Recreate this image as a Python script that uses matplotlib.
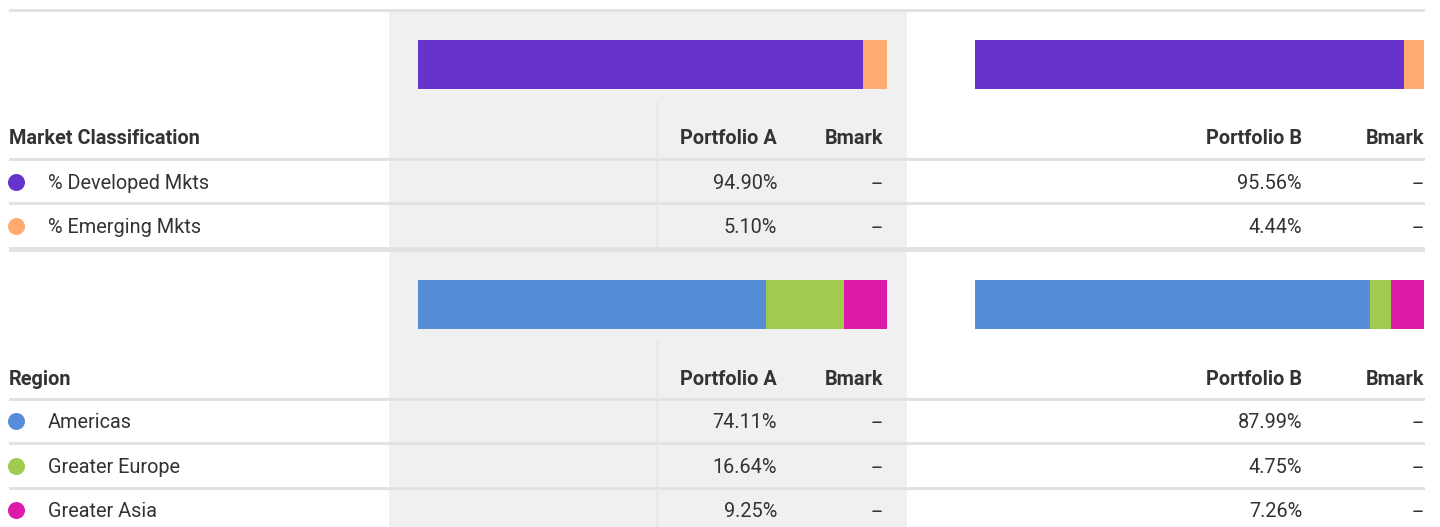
import matplotlib
matplotlib.use("Agg")
import matplotlib.pyplot as plt

# ---- data ----
market_categories = ["% Developed Mkts", "% Emerging Mkts"]
market_colors = ["#6633cc", "#ffaa70"]
market_portfolio_a = [94.90, 5.10]
market_portfolio_b = [95.56, 4.44]

region_categories = ["Americas", "Greater Europe", "Greater Asia"]
region_colors = ["#568cd8", "#9ecb50", "#dd1aaa"]
region_portfolio_a = [74.11, 16.64, 9.25]
region_portfolio_b = [87.99, 4.75, 7.26]

bmark_label = "--"
col_headers = ["Portfolio A", "Bmark", "Portfolio B", "Bmark"]

plt.rcParams['font.family'] = ['Roboto', 'DejaVu Sans']

W, H = 1440, 527
fig = plt.figure(figsize=(W / 100, H / 100), dpi=100)
ax = fig.add_axes([0, 0, 1, 1])
ax.set_xlim(0, W)
ax.set_ylim(H, 0)
ax.axis("off")

TXT = "#333333"
LINE = "#e2e2e2"
FS = 14.3

# shaded column
ax.fill_between([389, 907], 12, H, color="#f0f0f0", lw=0, zorder=0)
# top line
ax.fill_between([9, 1425], 9, 12, color=LINE, lw=0, zorder=1)


def pct(v):
    return f"{v:.2f}%"


def section(title, cats, colors, va, vb, bar_top, header_base, sep_ys, row_bases, vline):
    # bars
    for x0, x1, vals in [(418, 887, va), (975, 1424, vb)]:
        bax = fig.add_axes([x0 / W, 1 - (bar_top + 49) / H, (x1 - x0) / W, 49 / H])
        left = 0
        for v, c in zip(vals, colors):
            bax.barh(0, v, left=left, color=c, height=1.0, lw=0)
            left += v
        bax.set_xlim(0, 100)
        bax.set_ylim(-0.5, 0.5)
        bax.axis("off")
    # vertical line
    ax.plot([657, 657], vline, color="#e4e4e4", lw=1, zorder=1)
    # header
    ax.text(9, header_base, title, fontsize=FS, fontweight="bold", color=TXT, va="baseline", ha="left")
    for x, h in zip([777, 883, 1302, 1424], col_headers):
        ax.text(x, header_base, h, fontsize=FS, fontweight="bold", color=TXT, va="baseline", ha="right")
    # separators
    for y0, y1 in sep_ys:
        ax.fill_between([9, 1425], y0, y1, color=LINE, lw=0, zorder=1)
    # rows
    for i, (cat, c) in enumerate(zip(cats, colors)):
        yb = row_bases[i]
        ax.scatter([16], [yb - 7], s=150, color=c, lw=0, zorder=3)
        ax.text(48, yb, cat, fontsize=FS, color=TXT, va="baseline", ha="left")
        ax.text(777, yb, pct(va[i]), fontsize=FS, color=TXT, va="baseline", ha="right")
        ax.text(883, yb, bmark_label, fontsize=FS, color=TXT, va="baseline", ha="right")
        ax.text(1302, yb, pct(vb[i]), fontsize=FS, color=TXT, va="baseline", ha="right")
        ax.text(1424, yb, bmark_label, fontsize=FS, color=TXT, va="baseline", ha="right")


section("Market Classification", market_categories, market_colors,
        market_portfolio_a, market_portfolio_b,
        bar_top=40, header_base=144,
        sep_ys=[(158, 161), (202, 205), (247, 252)],
        row_bases=[189, 233], vline=[102, 247])

section("Region", region_categories, region_colors,
        region_portfolio_a, region_portfolio_b,
        bar_top=280, header_base=385,
        sep_ys=[(398, 401), (442, 445), (487, 490)],
        row_bases=[428, 473, 517], vline=[341, H])

fig.savefig("out.png", dpi=100)
